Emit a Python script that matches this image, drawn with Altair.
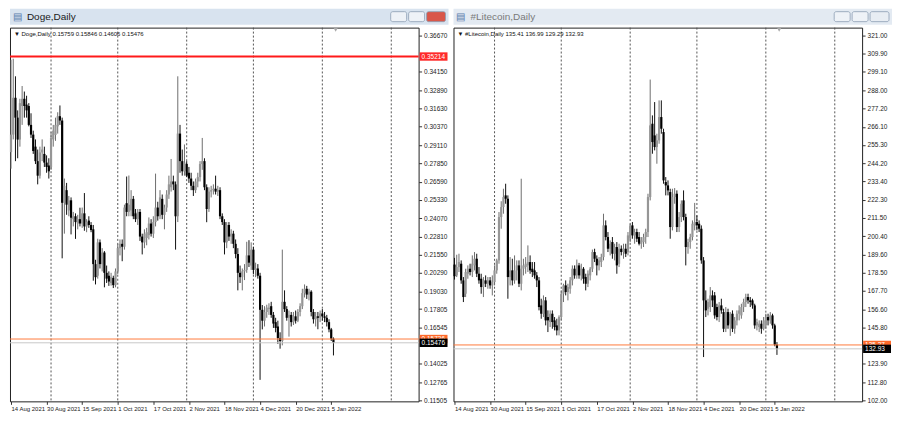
import altair as alt
import pandas as pd

# ---------------- data ----------------
START = "2021-08-14"
N_BARS = 146

doge_open = [.2862,.2983,.3237,.3100,.2949,.3180,.3230,.3190,.3180,.3050,
             .2983,.2900,.2800,.2700,.2860,.2850,.2790,.2770,.2760,.2950,
             .2980,.3040,.3110,.3080,.2513,.2600,.2460,.2530,.2400,.2420,
             .2370,.2400,.2370,.2440,.2350,.2390,.2360,.2330,.2090,.2010,
             .2240,.2090,.2170,.2030,.2010,.1960,.1995,.1945,.2040,.2200,
             .2230,.2210,.2510,.2450,.2460,.2540,.2440,.2400,.2450,.2280,
             .2240,.2270,.2290,.2370,.2300,.2380,.2480,.2420,.2540,.2430,
             .2480,.2570,.2620,.2660,.2640,.2420,.2990,.2800,.2730,.2780,
             .2720,.2680,.2630,.2600,.2660,.2690,.2780,.2800,.2620,.2470,
             .2590,.2600,.2610,.2590,.2600,.2420,.2380,.2240,.2360,.2280,
             .2300,.2230,.2160,.2030,.2000,.2040,.2050,.2150,.2080,.2190,
             .2050,.2060,.2010,.1775,.1700,.1760,.1780,.1800,.1740,.1690,
             .1660,.1580,.1560,.1830,.1780,.1720,.1740,.1690,.1730,.1700,
             .1760,.1800,.1890,.1920,.1880,.1900,.1760,.1710,.1730,.1720,
             .1750,.1730,.1720,.1690,.1640,.15759]
doge_high = [.3499,.3506,.3385,.3150,.3230,.3318,.3280,.3251,.3200,.3130,
             .3010,.2950,.2880,.2900,.2950,.2900,.2840,.2820,.3000,.3050,
             .3100,.3137,.3184,.3100,.2680,.2650,.2560,.2550,.2450,.2440,
             .2430,.2479,.2480,.2580,.2400,.2420,.2380,.2360,.2120,.2265,
             .2260,.2200,.2180,.2080,.2040,.2030,.2010,.2060,.2230,.2260,
             .2260,.2500,.2694,.2701,.2600,.2560,.2470,.2470,.2470,.2300,
             .2330,.2340,.2412,.2400,.2420,.2714,.2520,.2600,.2570,.2500,
             .2600,.2700,.2815,.2700,.2660,.3385,.3050,.2880,.2915,.2800,
             .2760,.2720,.2660,.2680,.2720,.2800,.2960,.2820,.2640,.2620,
             .2630,.2640,.2700,.2630,.2620,.2440,.2400,.2380,.2380,.2330,
             .2320,.2260,.2200,.2080,.2060,.2090,.2244,.2255,.2240,.2210,
             .2100,.2090,.2030,.1808,.1800,.1810,.1820,.1830,.1760,.1720,
             .1700,.1620,.2190,.1909,.1800,.1770,.1760,.1760,.1770,.1780,
             .1820,.1920,.1950,.1940,.1920,.1910,.1780,.1760,.1760,.1770,
             .1780,.1760,.1740,.1710,.1650,.15846]
doge_low = [.2748,.2950,.2800,.2820,.2900,.3050,.3100,.3100,.3040,.2960,
            .2850,.2780,.2640,.2680,.2800,.2760,.2720,.2680,.2740,.2900,
            .2940,.2990,.3050,.2130,.2300,.2430,.2420,.2295,.2350,.2264,
            .2330,.2350,.2340,.2320,.2310,.2340,.2310,.1976,.1950,.1990,
            .2060,.2040,.1930,.1960,.1940,.1942,.1925,.1930,.2020,.2150,
            .2110,.2190,.2420,.2420,.2420,.2400,.2380,.2360,.2250,.2157,
            .2200,.2220,.2260,.2280,.2270,.2350,.2390,.2400,.2400,.2330,
            .2450,.2540,.2590,.2600,.2190,.2380,.2720,.2700,.2700,.2690,
            .2650,.2600,.2560,.2580,.2620,.2660,.2740,.2600,.2379,.2450,
            .2550,.2570,.2570,.2560,.2400,.2360,.2157,.2200,.2250,.2230,
            .2200,.2130,.1909,.1960,.1909,.1980,.2030,.2070,.2050,.2020,
            .2000,.1990,.1292,.1640,.1660,.1720,.1740,.1720,.1650,.1620,
            .1540,.1507,.1530,.1760,.1700,.1590,.1660,.1670,.1680,.1690,
            .1730,.1780,.1860,.1850,.1840,.1730,.1680,.1660,.1641,.1690,
            .1700,.1690,.1660,.1620,.1560,.14606]
doge_close = [.2983,.3237,.3100,.2949,.3200,.3230,.3180,.3150,.3050,.2983,
              .2870,.2800,.2700,.2860,.2880,.2790,.2760,.2730,.2960,.3010,
              .3050,.3110,.3080,.2513,.2630,.2500,.2530,.2410,.2420,.2380,
              .2400,.2370,.2440,.2350,.2380,.2360,.2325,.2090,.2000,.2240,
              .2090,.2170,.2030,.1990,.1970,.2000,.1945,.2040,.2200,.2230,
              .2210,.2480,.2450,.2500,.2540,.2420,.2400,.2450,.2280,.2240,
              .2300,.2310,.2370,.2300,.2380,.2480,.2420,.2550,.2430,.2480,
              .2570,.2640,.2660,.2640,.2420,.2990,.2800,.2730,.2790,.2700,
              .2680,.2630,.2600,.2660,.2690,.2780,.2800,.2620,.2470,.2590,
              .2600,.2610,.2590,.2600,.2420,.2380,.2240,.2360,.2280,.2300,
              .2230,.2160,.2030,.2000,.2040,.2050,.2150,.2100,.2190,.2050,
              .2060,.2010,.1775,.1700,.1760,.1790,.1790,.1740,.1680,.1650,
              .1580,.1560,.1830,.1780,.1720,.1740,.1690,.1730,.1700,.1760,
              .1800,.1890,.1920,.1880,.1900,.1760,.1710,.1730,.1720,.1750,
              .1730,.1720,.1690,.1640,.1576,.15476]

ltc_open = [183.5,177,182,184,174,166,178,181,179,183,187,178,175,170,174,172,174,171,173,180,
            186,212,218,225,223,176,180,174,180,183,172,181,182,183,185,181,180,177,174,159,
            154,162,152,149,154,150,147,144,152,166,171,167,169,174,181,177,183,177,181,176,
            172,177,181,191,187,183,185,188,207,200,193,197,190,194,184,193,191,193,191,199,
            207,201,203,200,196,197,200,203,224,268,261,254,258,272,263,233,231,227,206,224,
            226,206,212,222,212,194,197,200,207,209,208,205,186,162,157,158,165,165,158,152,
            159,155,145,155,148,154,145,150,154,153,158,161,164,162,162,159,147,146,148,145,
            147,152,150,153,147,135.41]
ltc_high = [187.5,189.4,190,186,176,181,183,184,189,191,190,182,178,176,177,176,176,177,183,187,
            215,221.5,229,232,225,188,187,189,186,186,235,187,188,195,189,185,185,179,176,163,
            165,164,156,156,156,152,151,153,168,172,174,172,176,183,183,186.5,184.5,184,182,178,
            180,182,192.5,193,189,188,190,214,210,203,198,200,196,197,196,195,196,196,203,208,
            209,205,205,203,200,202,205,226,294.5,273,281,262,282,282,265,236,234,229,229,229.4,
            228,215,222,228,214,199,202,210,220.5,213,210,207,188,168,163,170,168,167,160,161,
            163,157,158,157,155,156,152,156,159,160,163,166,166,164,163,160,151,150,150,152,
            154,154,155,154,148,136.99]
ltc_low = [174.5,176,179,172,161,164,175,177,176,180,176,172,166,164,170,169,169,165,171,178,
           184,205,214,220,163,171,171,172,174,170,168,177,178,179,178,176,175,170,156,151,
           152,147,143,146,145,144,141,141,150,161,165,162,166,171,175,175,175,174,172,168,
           170,174,179,185,177,180,182,186,198,191,189,187,186,178,182,189,187,188,189,197,
           199,196,197,195,193,194,196,200,222,250,252,244,256,262,232,225,225,199,204,220,
           203,203,209,210,183,190,193,198,204,204,203,184,128,152,153,155,158,151,150,149,
           154,143,143,145,140.7,143,142,147,150,151,155,158,160,158,157,145,144,143,142,144,
           145,147,148,145,134.5,129.29]
ltc_close = [176.5,182,185,174,164,179,181,179,184,187,178,174,170,174,172,174,171,173,180,186,
             212,218,224,223,176,180,174,180,183,172,181,183,184,185,180,179,177,174,158,154,
             162,150,150,154,149,146,144,152,166,171,167,170,174,181,177,183,177,181,175,172,
             178,181,191,187,183,186,188,207,200,193,196,190,194,183,193,191,193,190,201,207,
             201,203,199,196,198,200,203,224,267,257,254,258,272,265,234,231,228,206,224,226,
             206,212,220,212,194,197,200,208,209,207,205,186,162,156,161,165,162,153,152,159,
             156,145,155,147,154,145,150,154,156,158,161,164,162,161,159,147,149,148,145,150,
             152,150,153,147,135.4,132.93]

# visible price-scale labels (the ones hidden behind price boxes are left out)
doge_ticks = [0.36670, 0.34150, 0.32890, 0.31630, 0.30370, 0.29110, 0.27850,
              0.26590, 0.25330, 0.24070, 0.22810, 0.21550, 0.20290, 0.19030, 0.17805,
              0.16545, 0.14025, 0.12765, 0.11505]
ltc_ticks = [321.00, 309.90, 299.10, 288.00, 277.20, 266.10, 255.30, 244.20, 233.40,
             222.30, 211.50, 200.40, 189.60, 178.50, 167.70, 156.60, 145.80,
             123.90, 112.80, 102.00]
date_ticks = ["2021-08-14", "2021-08-30", "2021-09-15", "2021-10-01", "2021-10-17",
              "2021-11-02", "2021-11-18", "2021-12-04", "2021-12-20", "2022-01-05"]
month_lines = ["2021-09-01", "2021-10-01", "2021-11-01", "2021-12-01",
               "2022-01-01", "2022-02-01"]
shift_marker = ["2022-01-07"]

doge_levels = [("red", 0.35214, "0.35214"), ("ask", 0.15736, "0.15736"), ("bid", 0.15476, "0.15476")]
ltc_levels = [("ask", 135.27, "135.27"), ("bid", 132.93, "132.93")]

doge_info = "\u25bc Doge,Daily  0.15759 0.15846 0.14606 0.15476"
ltc_info = "\u25bc #Litecoin,Daily  135.41 136.99 129.29 132.93"

# ---------------- layout ----------------
W, H = 410, 375
FONT = "Liberation Sans"
dates = pd.date_range(START, periods=N_BARS, freq="D").strftime("%Y-%m-%d")


def dt(s, h=0):
    y, m, d = (int(v) for v in s.split("-"))
    return alt.DateTime(year=y, month=m, date=d, hours=h, utc=True)


XDOM = [dt("2021-08-13", 13), dt("2022-02-13", 7)]
LEVEL_STYLE = {"red": ("#ff1a1a", 2), "ask": ("#ff7a3c", 1), "bid": ("#c8c8c8", 1)}
BOX_COLOR = {"red": "#ff2a2a", "ask": "#ff6a2a", "bid": "#000000"}
BOX_PATH = "M-1,-0.3L1,-0.3L1,0.3L-1,0.3Z"


def panel(title, active, o, h, l, c, ticks, fmt, ydom, levels, info):
    df = pd.DataFrame({"date": dates, "o": o, "h": h, "l": l, "c": c})
    xenc = alt.X("date:T", title=None,
                 scale=alt.Scale(type="utc", domain=XDOM),
                 axis=alt.Axis(values=[dt(s) for s in date_ticks],
                               labelExpr="utcFormat(datum.value, '%-d %b %Y')",
                               labelAlign="left", labelFontSize=6, labelPadding=1,
                               tickSize=3, grid=False, domain=False,
                               labelOverlap=False, labelFlush=False,
                               labelColor="#222", tickColor="#333"))
    yscale = alt.Scale(domain=ydom, zero=False, nice=False)
    yaxis = alt.Axis(orient="right", values=ticks, format=fmt,
                     labelFontSize=6.5, labelPadding=2, tickSize=3,
                     grid=False, domain=False, labelColor="#222",
                     labelOverlap=False, labelFlush=False, labelBound=False,
                     tickColor="#333")
    up = "datum.c >= datum.o"

    wick = alt.Chart(df).mark_rule(strokeWidth=1).encode(
        x=xenc,
        y=alt.Y("l:Q", title=None, scale=yscale, axis=yaxis),
        y2="h:Q",
        color=alt.condition(up, alt.value("#6e6e6e"), alt.value("#111111")),
    )
    body = alt.Chart(df).mark_rule(strokeWidth=2.2, strokeCap="butt").encode(
        x=alt.X("date:T", title=None),
        y=alt.Y("o:Q", title=None, axis=yaxis),
        y2="c:Q",
        color=alt.condition(up, alt.value("#969696"), alt.value("#000000")),
    )
    grid = alt.Chart(pd.DataFrame({"d": month_lines})).mark_rule(
        strokeDash=[2, 2], color="#555555", strokeWidth=1
    ).encode(x=alt.X("d:T", title=None))
    marker = alt.Chart(pd.DataFrame({"d": shift_marker})).mark_point(
        shape="triangle-down", filled=True, size=22, color="#a8a8a8", opacity=1
    ).encode(x=alt.X("d:T", title=None), y=alt.value(2))

    lv = pd.DataFrame({"kind": [k for k, _, _ in levels],
                       "v": [v for _, v, _ in levels],
                       "lbl": [s for _, _, s in levels]})
    layers = [grid, wick, body, marker]
    for kind, v, s in levels:
        col, sw = LEVEL_STYLE[kind]
        layers.append(alt.Chart(lv[lv.kind == kind]).mark_rule(
            color=col, strokeWidth=sw).encode(y=alt.Y("v:Q", title=None, axis=yaxis)))
    for kind, v, s in levels:
        sub = lv[lv.kind == kind]
        layers.append(alt.Chart(sub).mark_point(
            shape=BOX_PATH, size=784, filled=True, opacity=1,
            color=BOX_COLOR[kind], strokeWidth=0).encode(
            x=alt.value(W + 15), y=alt.Y("v:Q", title=None, axis=yaxis)))
        layers.append(alt.Chart(sub).mark_text(
            align="left", baseline="middle", fontSize=6.5, color="white").encode(
            x=alt.value(W + 3), y=alt.Y("v:Q", title=None, axis=yaxis), text="lbl:N"))
    layers.append(alt.Chart(pd.DataFrame({"t": [info]})).mark_text(
        align="left", baseline="top", fontSize=6, color="#111").encode(
        x=alt.value(4), y=alt.value(3), text="t:N"))

    main = alt.layer(*layers).properties(width=W, height=H)

    HW = W + 30
    hdr_df = pd.DataFrame({"t": [title]})
    head_txt = alt.Chart(hdr_df).mark_text(
        align="left", baseline="middle", fontSize=10,
        color="#1a1a1a" if active else "#7a7a7a").encode(
        x=alt.value(17), y=alt.value(8), text="t:N")
    icon = alt.Chart(hdr_df).mark_text(
        align="left", baseline="middle", fontSize=10, color="#5b7fae").encode(
        x=alt.value(3), y=alt.value(8), text=alt.value("\u25a4"))
    btn_df = pd.DataFrame({"b": ["min", "max", "close"],
                           "x1": [HW - 58, HW - 40, HW - 22],
                           "x2": [HW - 42, HW - 24, HW - 3]})
    close_col = "#d9574a" if active else "#e8edf3"
    buttons = alt.Chart(btn_df).mark_rect(stroke="#8c9db3", strokeWidth=0.8,
                                          cornerRadius=2).encode(
        x=alt.X("x1:Q", scale=None), x2="x2:Q",
        y=alt.value(3), y2=alt.value(13),
        color=alt.condition("datum.b == 'close'", alt.value(close_col),
                            alt.value("#eef2f7")))
    header = alt.layer(icon, head_txt, buttons).properties(
        width=HW, height=16,
        view=alt.ViewBackground(fill="#d8e3ef" if active else "#e3eaf2",
                                stroke=None))
    return alt.vconcat(header, main, spacing=2)


left = panel("Doge,Daily", True, doge_open, doge_high, doge_low, doge_close,
             doge_ticks, ".5f", [0.11438, 0.37207], doge_levels, doge_info)
right = panel("#Litecoin,Daily", False, ltc_open, ltc_high, ltc_low, ltc_close,
              ltc_ticks, ".2f", [101.42, 325.67], ltc_levels, ltc_info)

chart = alt.hconcat(left, right, spacing=4).properties(
    padding=0, background="white"
).configure(font=FONT).configure_view(
    stroke="#222222", strokeWidth=1
).configure_axis(labelOverlap=False, labelFlush=False)

chart.save("out.html", embed_options={"renderer": "svg", "actions": False})
